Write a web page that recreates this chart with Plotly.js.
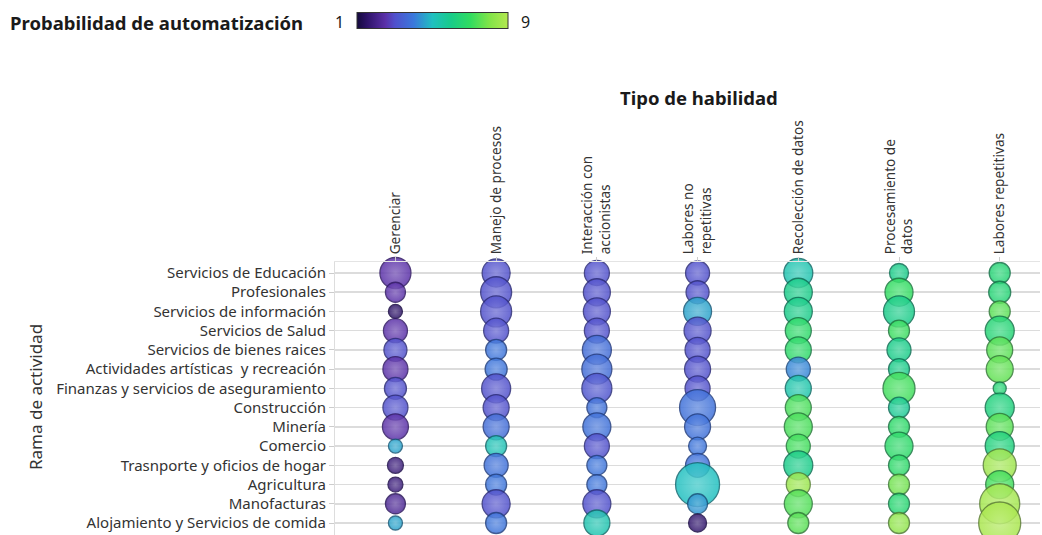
<!DOCTYPE html>
<html>
<head>
<meta charset="utf-8">
<script src="https://cdn.plot.ly/plotly-3.0.1.min.js"></script>
<style>
  html, body { margin: 0; padding: 0; background: #ffffff; }
  #chart { width: 1042px; height: 535px; }
</style>
</head>
<body>
<div id="chart"></div>
<script>
// ---------------- DATA ----------------
const ramas = [
  "Servicios de Educación",
  "Profesionales",
  "Servicios de información",
  "Servicios de Salud",
  "Servicios de bienes raices",
  "Actividades artísticas\u00a0 y recreación",
  "Finanzas y servicios de aseguramiento",
  "Construcción",
  "Minería",
  "Comercio",
  "Trasnporte y oficios de hogar",
  "Agricultura",
  "Manofacturas",
  "Alojamiento y Servicios de comida"
];

const habilidades = [
  "Gerenciar",
  "Manejo de procesos",
  "Interacción con accionistas",
  "Labores no repetitivas",
  "Recolección de datos",
  "Procesamiento de datos",
  "Labores repetitivas"
];

const etiquetasHabilidades = [
  "Gerenciar",
  "Manejo de procesos",
  "Interacción con<br>accionistas",
  "Labores no<br>repetitivas",
  "Recolección de datos",
  "Procesamiento de<br>datos",
  "Labores repetitivas"
];

// Importancia de la habilidad (tamaño de la burbuja), una lista por habilidad, en el orden de "ramas"
const importanciaGerenciar      = [31, 20, 14, 24, 23, 25, 22, 25, 26, 14, 16, 15, 20, 14];
const importanciaProcesos       = [28, 31, 31, 25, 21, 22, 29, 26, 26, 21, 24, 21, 28, 21];
const importanciaInteraccion    = [25, 27, 27, 25, 29, 30, 30, 20, 28, 25, 20, 20, 28, 26];
const importanciaNoRepetitivas  = [24, 23, 28, 27, 25, 26, 25, 36, 26, 18, 24, 44, 20, 18];
const importanciaRecoleccion    = [29, 28, 28, 26, 26, 24, 26, 26, 28, 24, 29, 24, 28, 21];
const importanciaProcesamiento  = [19, 28, 31, 21, 24, 21, 32, 21, 21, 28, 21, 21, 21, 21];
const importanciaRepetitivas    = [21, 22, 21, 29, 26, 27, 13, 29, 27, 29, 33, 28, 40, 42];

// Probabilidad de automatización (escala 1 - 9)
const probGerenciar      = [2.5, 2.5, 1.5, 2.5, 3.0, 2.5, 3.0, 3.0, 2.5, 4.6, 1.8, 1.8, 2.2, 4.6];
const probProcesos       = [3.0, 3.0, 3.0, 3.0, 3.9, 3.9, 3.0, 3.0, 3.7, 5.2, 3.8, 3.9, 3.0, 3.9];
const probInteraccion    = [3.0, 3.0, 3.0, 3.0, 3.7, 3.7, 3.1, 3.8, 3.8, 3.0, 3.9, 3.9, 3.0, 5.3];
const probNoRepetitivas  = [3.0, 3.0, 4.6, 3.0, 3.0, 3.0, 3.0, 3.8, 3.8, 3.9, 3.8, 5.0, 4.4, 1.6];
const probRecoleccion    = [5.3, 6.0, 6.0, 6.8, 6.8, 4.2, 5.4, 7.3, 7.3, 7.2, 6.0, 8.5, 7.4, 7.5];
const probProcesamiento  = [6.0, 7.0, 6.0, 7.1, 6.0, 6.0, 7.2, 5.8, 6.8, 6.8, 6.8, 7.8, 6.6, 8.3];
const probRepetitivas    = [6.5, 6.5, 7.5, 6.5, 7.5, 7.6, 6.5, 6.3, 7.5, 6.3, 8.6, 7.2, 8.7, 8.8];

const escalaMin = 1;
const escalaMax = 9;

// ---------------- BUILD ----------------
const importancia = [importanciaGerenciar, importanciaProcesos, importanciaInteraccion,
  importanciaNoRepetitivas, importanciaRecoleccion, importanciaProcesamiento, importanciaRepetitivas];
const probabilidad = [probGerenciar, probProcesos, probInteraccion,
  probNoRepetitivas, probRecoleccion, probProcesamiento, probRepetitivas];

const colorscale = [
  [0.000, "#140a3c"],
  [0.0625, "#2c1266"],
  [0.1875, "#5a30a8"],
  [0.250, "#5050cc"],
  [0.375, "#3a78dc"],
  [0.500, "#20c0c0"],
  [0.625, "#18cc88"],
  [0.750, "#30dc60"],
  [0.875, "#80e448"],
  [1.000, "#b4e850"]
];

function hexRgb(h) {
  h = h.replace("#", "");
  return [parseInt(h.substr(0, 2), 16), parseInt(h.substr(2, 2), 16), parseInt(h.substr(4, 2), 16)];
}
function colorAt(v) {
  const t = Math.max(0, Math.min(1, (v - escalaMin) / (escalaMax - escalaMin)));
  for (let k = 0; k < colorscale.length - 1; k++) {
    const a = colorscale[k], b = colorscale[k + 1];
    if (t >= a[0] && t <= b[0]) {
      const f = (t - a[0]) / (b[0] - a[0]);
      const ca = hexRgb(a[1]), cb = hexRgb(b[1]);
      return ca.map((c, i) => c + (cb[i] - c) * f);
    }
  }
  return hexRgb(colorscale[colorscale.length - 1][1]);
}
function mix(rgb, target, f) {
  const r = rgb.map((c, i) => Math.round(c + (target[i] - c) * f));
  return "rgb(" + r.join(",") + ")";
}

const xs = [], ys = [], sizes = [], colors = [], lineColors = [], gradColors = [];
for (let j = 0; j < habilidades.length; j++) {
  for (let i = 0; i < ramas.length; i++) {
    xs.push(habilidades[j]);
    ys.push(ramas[i]);
    sizes.push(importancia[j][i]);
    colors.push(probabilidad[j][i]);
    const base = colorAt(probabilidad[j][i]);
    lineColors.push(mix(base, [0, 0, 20], 0.45));
    gradColors.push(mix(base, [255, 255, 255], 0.28));
  }
}

const trace = {
  type: "scatter",
  mode: "markers",
  x: xs,
  y: ys,
  cliponaxis: false,
  hoverinfo: "skip",
  marker: {
    size: sizes,
    sizemode: "diameter",
    sizeref: 1,
    color: colors,
    cmin: escalaMin,
    cmax: escalaMax,
    colorscale: colorscale,
    opacity: 0.85,
    gradient: { type: "radial", color: gradColors },
    line: { width: 1.3, color: lineColors },
    showscale: true,
    colorbar: {
      orientation: "h",
      x: (357 - 335) / 705,
      xanchor: "left",
      y: (535 - 21) / 273,
      yanchor: "middle",
      len: 151,
      lenmode: "pixels",
      thickness: 16,
      thicknessmode: "pixels",
      xpad: 0,
      ypad: 0,
      outlinewidth: 1,
      outlinecolor: "#333",
      showticklabels: false,
      ticks: ""
    }
  }
};

const FONT = "'Noto Sans', 'Open Sans', sans-serif";

const layout = {
  width: 1042,
  height: 535,
  margin: { l: 335, r: 2, t: 262, b: 0, pad: 0 },
  paper_bgcolor: "#ffffff",
  plot_bgcolor: "#ffffff",
  showlegend: false,
  font: { family: FONT, color: "#333" },
  xaxis: {
    type: "category",
    categoryorder: "array",
    categoryarray: habilidades,
    tickmode: "array",
    tickvals: habilidades,
    ticktext: etiquetasHabilidades,
    side: "top",
    tickangle: -90,
    range: [-0.6, 6.4],
    showgrid: false,
    zeroline: false,
    showline: true,
    linecolor: "#e4e4e4",
    linewidth: 1,
    ticks: "outside",
    ticklen: 4,
    tickcolor: "#cccccc",
    tickfont: { family: FONT, size: 13.6, color: "#333" },
    automargin: false,
    fixedrange: true
  },
  yaxis: {
    type: "category",
    categoryorder: "array",
    categoryarray: ramas,
    range: [13.624, -0.572],
    showgrid: true,
    gridcolor: "#dcdcdc",
    gridwidth: 1.5,
    zeroline: false,
    showline: true,
    linecolor: "#dddddd",
    linewidth: 1,
    ticks: "outside",
    ticklen: 5,
    tickcolor: "#cccccc",
    tickfont: { family: FONT, size: 15, color: "#333" },
    automargin: false,
    fixedrange: true
  },
  annotations: [
    {
      text: "<b>Probabilidad de automatización</b>",
      xref: "paper", yref: "paper",
      x: (8 - 335) / 705, y: (535 - 22) / 273,
      xanchor: "left", yanchor: "middle",
      showarrow: false,
      font: { family: FONT, size: 18.5, color: "#1a1a1a" }
    },
    {
      text: String(escalaMin),
      xref: "paper", yref: "paper",
      x: (346 - 335) / 705, y: (535 - 22) / 273,
      xanchor: "right", yanchor: "middle",
      showarrow: false,
      font: { family: FONT, size: 16, color: "#1a1a1a" }
    },
    {
      text: String(escalaMax),
      xref: "paper", yref: "paper",
      x: (519 - 335) / 705, y: (535 - 22) / 273,
      xanchor: "left", yanchor: "middle",
      showarrow: false,
      font: { family: FONT, size: 16, color: "#1a1a1a" }
    },
    {
      text: "<b>Tipo de habilidad</b>",
      xref: "paper", yref: "paper",
      x: (699 - 335) / 705, y: (535 - 98) / 273,
      xanchor: "center", yanchor: "middle",
      showarrow: false,
      font: { family: FONT, size: 18.5, color: "#1a1a1a" }
    },
    {
      text: "Rama de actividad",
      xref: "paper", yref: "paper",
      x: (35 - 335) / 705, y: (535 - 397) / 273,
      xanchor: "center", yanchor: "middle",
      textangle: -90,
      showarrow: false,
      font: { family: FONT, size: 17, color: "#333" }
    }
  ]
};

Plotly.newPlot("chart", [trace], layout, { staticPlot: true, displayModeBar: false });
</script>
</body>
</html>
